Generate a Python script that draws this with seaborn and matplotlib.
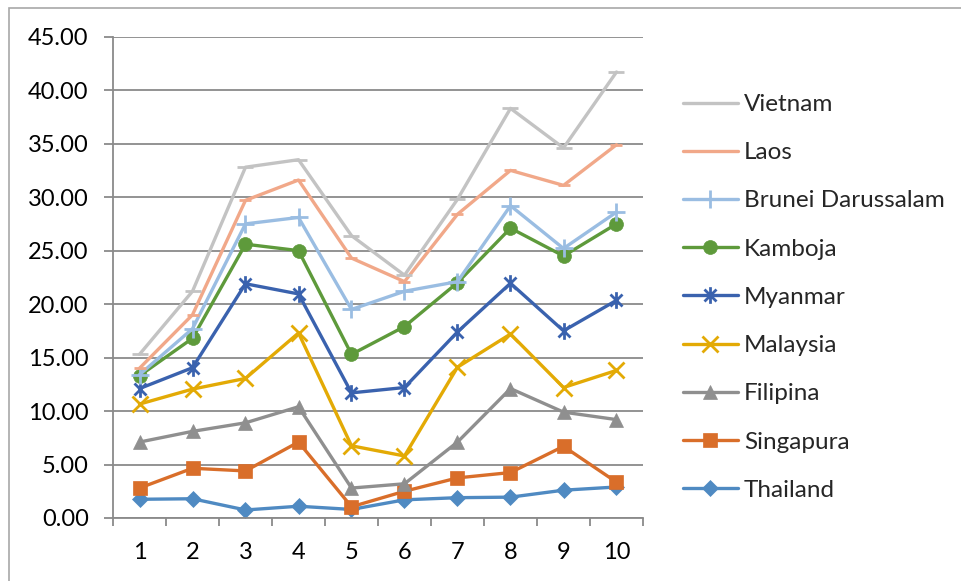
import matplotlib
matplotlib.use("Agg")
import matplotlib.pyplot as plt
from matplotlib.path import Path
from matplotlib.patches import Rectangle
from matplotlib.ticker import FixedLocator, FormatStrFormatter
import seaborn as sns
import pandas as pd

periods = [1, 2, 3, 4, 5, 6, 7, 8, 9, 10]

thailand = [1.75, 1.8, 0.75, 1.1, 0.8, 1.7, 1.9, 1.95, 2.6, 2.9]
singapura = [2.8, 4.65, 4.4, 7.1, 1.05, 2.5, 3.75, 4.25, 6.7, 3.35]
filipina = [7.1, 8.1, 8.9, 10.4, 2.8, 3.2, 7.1, 12.1, 9.9, 9.2]
malaysia = [10.65, 12.05, 13.05, 17.3, 6.75, 5.8, 14.1, 17.2, 12.2, 13.8]
myanmar = [12.1, 14.05, 21.9, 20.95, 11.7, 12.2, 17.4, 21.95, 17.5, 20.35]
kamboja = [13.3, 16.8, 25.6, 25.0, 15.3, 17.9, 22.0, 27.1, 24.5, 27.5]
brunei = [13.4, 17.7, 27.5, 28.1, 19.5, 21.2, 22.1, 29.2, 25.2, 28.6]
laos = [14.0, 19.0, 29.7, 31.6, 24.3, 22.1, 28.4, 32.5, 31.1, 34.9]
vietnam = [15.3, 21.2, 32.8, 33.5, 26.4, 22.7, 29.8, 38.3, 34.6, 41.7]

y_ticks = [0, 5, 10, 15, 20, 25, 30, 35, 40, 45]

# asterisk marker: an X crossed by a vertical bar
star_path = Path(
    [(0, -1), (0, 1), (-0.72, -0.72), (0.72, 0.72), (-0.72, 0.72), (0.72, -0.72)],
    [Path.MOVETO, Path.LINETO, Path.MOVETO, Path.LINETO, Path.MOVETO, Path.LINETO],
)

# drawn bottom-up so the upper series sit on top
series = [
    ("Thailand", thailand, "#4F8AC2", "D", 8, False),
    ("Singapura", singapura, "#D96E2A", "s", 10, False),
    ("Filipina", filipina, "#8F8F8F", "^", 10, False),
    ("Malaysia", malaysia, "#E3AA05", "x", 12, True),
    ("Myanmar", myanmar, "#3A62AE", star_path, 12, True),
    ("Kamboja", kamboja, "#5E9A3B", "o", 10, False),
    ("Brunei Darussalam", brunei, "#9ABDE2", "+", 13, True),
    ("Laos", laos, "#F1A889", "_", 9, True),
    ("Vietnam", vietnam, "#C3C3C3", "_", 11, True),
]

sns.set_style("white")
plt.rcParams["font.family"] = ["Lato", "DejaVu Sans"]

fig = plt.figure(figsize=(9.61, 5.81), dpi=100)
ax = fig.add_axes([113 / 961, 1 - 518 / 581, (643 - 113) / 961, (518 - 36.7) / 581])

for name, vals, color, marker, ms, open_marker in series:
    df = pd.DataFrame({"period": periods, "value": vals})
    sns.lineplot(
        data=df, x="period", y="value", ax=ax, color=color, linewidth=2.4,
        marker=marker, markersize=ms,
        markeredgecolor=color,
        markerfacecolor=color,
        markeredgewidth=2.0 if open_marker else 0.5,
        label=name,
    )

ax.set_xlim(0.5, 10.5)
ax.set_ylim(0, 45)
ax.set_xlabel("")
ax.set_ylabel("")

grid_color = "#8A8A8A"
ax.yaxis.set_major_locator(FixedLocator(y_ticks))
ax.yaxis.set_major_formatter(FormatStrFormatter("%.2f"))
ax.grid(axis="y", color=grid_color, linewidth=1.3)
ax.grid(axis="x", visible=False)

# category boundaries carry the tick marks, centres carry the labels
ax.xaxis.set_major_locator(FixedLocator([p - 0.5 for p in periods] + [periods[-1] + 0.5]))
ax.xaxis.set_major_formatter(plt.NullFormatter())
ax.xaxis.set_minor_locator(FixedLocator(periods))
ax.xaxis.set_minor_formatter(plt.FixedFormatter([str(p) for p in periods]))

ax.tick_params(axis="x", which="major", direction="out", length=6, width=1.3,
               color=grid_color, bottom=True)
ax.tick_params(axis="x", which="minor", length=0, pad=17, labelsize=17, labelcolor="black")
ax.tick_params(axis="y", direction="out", length=6.5, width=1.3, color=grid_color,
               left=True, pad=11, labelsize=17, labelcolor="black")

for side in ("top", "right"):
    ax.spines[side].set_visible(False)
for side in ("left", "bottom"):
    ax.spines[side].set_color(grid_color)
    ax.spines[side].set_linewidth(1.3)

handles, labels = ax.get_legend_handles_labels()
leg = ax.legend(
    handles[::-1], labels[::-1],
    loc="upper left", bbox_to_anchor=(683 / 961, 1 - 94 / 581),
    bbox_transform=fig.transFigure, frameon=False, fontsize=17.5,
    handlelength=2.25, handletextpad=0.25, labelspacing=1.12,
    borderpad=0, borderaxespad=0, numpoints=1,
)

# chart area outline
fig.patches.append(Rectangle((9 / 961, -0.1), 1.2, 1.1 - 7.5 / 581,
                             transform=fig.transFigure, fill=False,
                             edgecolor="#A8A8A8", linewidth=1.2, clip_on=False))

fig.savefig("out.png", dpi=100)
